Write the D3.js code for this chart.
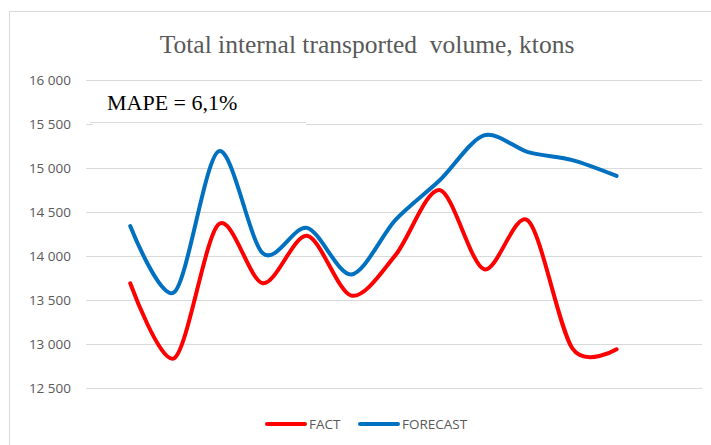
<!DOCTYPE html>
<html>
<head>
<meta charset="utf-8">
<script src="https://cdn.jsdelivr.net/npm/d3@7"></script>
<style>
  body { margin: 0; background: #fff; }
  svg { display: block; }
</style>
</head>
<body>
<svg id="chart" width="711" height="445"></svg>
<script>
const periods = [1, 2, 3, 4, 5, 6, 7, 8, 9, 10, 11, 12];
const fact = [13690, 12840, 14360, 13690, 14230, 13550, 14010, 14750, 13850, 14400, 12950, 12940];
const forecast = [14340, 13590, 15190, 14030, 14320, 13790, 14410, 14860, 15370, 15180, 15090, 14910];
const yTicks = [12500, 13000, 13500, 14000, 14500, 15000, 15500, 16000];
const title = 'Total internal transported  volume, ktons';
const note = 'MAPE = 6,1%';

const svg = d3.select('#chart');
const margin = {top: 80, left: 86, right: 9, bottom: 57};
const width = 711 - margin.left - margin.right,
      height = 445 - margin.top - margin.bottom;

// outer chart frame
svg.append('rect')
  .attr('x', 9.5).attr('y', 11.5)
  .attr('width', 720).attr('height', 450)
  .attr('fill', '#fff').attr('stroke', '#d9d9d9');

svg.append('text')
  .attr('x', 367).attr('y', 53)
  .attr('text-anchor', 'middle')
  .style('font-family', '"Liberation Serif", "Times New Roman", serif')
  .style('font-size', '25.5px')
  .style('white-space', 'pre')
  .attr('fill', '#595959')
  .text(title);

const x = d3.scaleLinear().domain([0, 14]).range([0, 619]);
const y = d3.scaleLinear().domain([12500, 16000]).range([height, 0]);

const g = svg.append('g')
  .attr('transform', 'translate(' + margin.left + ',' + margin.top + ')');

g.append('g')
  .attr('class', 'y axis')
  .call(d3.axisLeft(y).tickValues(yTicks).tickSize(-width).tickPadding(15)
    .tickFormat(d => d3.format(',')(d).replace(',', ' ')))
  .call(s => s.select('.domain').remove())
  .call(s => s.selectAll('.tick line').attr('stroke', '#d9d9d9').attr('stroke-width', 1.2))
  .call(s => s.selectAll('.tick text')
    .attr('fill', '#595959')
    .style('font-family', '"Open Sans", "Liberation Sans", sans-serif')
    .style('font-size', '13.5px'));

// MAPE text box
g.append('rect')
  .attr('x', 7).attr('y', 3).attr('width', 213).attr('height', 43)
  .attr('fill', '#fff');
g.append('line')
  .attr('x1', 4).attr('x2', 220).attr('y1', 42.5).attr('y2', 42.5)
  .attr('stroke', '#d9d9d9').attr('stroke-width', 1.2);
g.append('text')
  .attr('x', 21).attr('y', 30)
  .style('font-family', '"Liberation Serif", "Times New Roman", serif')
  .style('font-size', '22px')
  .attr('fill', '#000')
  .text(note);

const line = values => d3.line()
  .x((d, i) => x(periods[i]))
  .y(d => y(d))
  .curve(d3.curveCardinal.tension(0.1))(values);

g.append('path')
  .attr('d', line(fact))
  .attr('fill', 'none').attr('stroke', '#ff0000')
  .attr('stroke-width', 4).attr('stroke-linecap', 'round');

g.append('path')
  .attr('d', line(forecast))
  .attr('fill', 'none').attr('stroke', '#0070c0')
  .attr('stroke-width', 4).attr('stroke-linecap', 'round');

// legend
const legend = svg.append('g').attr('transform', 'translate(267,424)');
const items = [{name: 'FACT', color: '#ff0000', x: 0}, {name: 'FORECAST', color: '#0070c0', x: 93}];
items.forEach(it => {
  legend.append('line')
    .attr('x1', it.x).attr('x2', it.x + 38).attr('y1', 0).attr('y2', 0)
    .attr('stroke', it.color).attr('stroke-width', 4).attr('stroke-linecap', 'round');
  legend.append('text')
    .attr('x', it.x + 42).attr('y', 5)
    .attr('fill', '#595959')
    .style('font-family', '"Open Sans", "Liberation Sans", sans-serif')
    .style('font-size', '13.5px')
    .text(it.name);
});
</script>
</body>
</html>
